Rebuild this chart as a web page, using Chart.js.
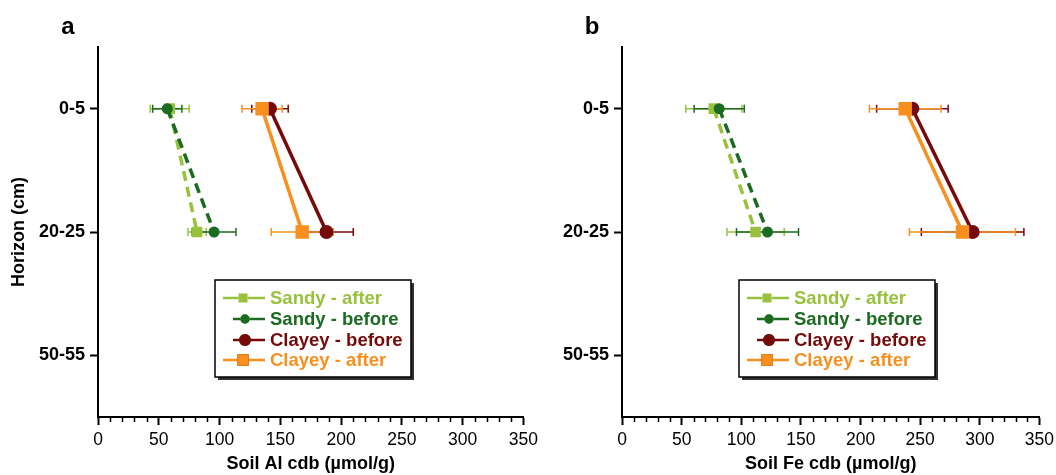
<!DOCTYPE html>
<html>
<head>
<meta charset="utf-8">
<script src="https://cdn.jsdelivr.net/npm/chart.js@4.4.1/dist/chart.umd.min.js"></script>
<style>
    html, body { margin: 0; padding: 0; background: #fff; overflow: hidden; }
    #wrap { position: relative; width: 1056px; height: 475px; overflow: hidden; }
    canvas { position: absolute; top: 0; }
</style>
</head>
<body>
<div id="wrap">
    <canvas id="chart-al" width="543" height="475" style="left:0"></canvas>
    <canvas id="chart-fe" width="516" height="475" style="left:543px"></canvas>
</div>
<script>
const horizons = ['0-5', '20-25', '50-55'];
const seriesLabels = ['Sandy - after', 'Sandy - before', 'Clayey - before', 'Clayey - after'];
const xTicks = [0, 50, 100, 150, 200, 250, 300, 350];

// Soil Al cdb (umol/g), one value per sampled horizon
const alSandyAfter = [59, 81.5];
const alSandyAfterErr = [16, 7.5];
const alSandyBefore = [57, 95.5];
const alSandyBeforeErr = [12, 18];
const alClayeyBefore = [141.5, 188];
const alClayeyBeforeErr = [15, 22];
const alClayeyAfter = [135, 168];
const alClayeyAfterErr = [16.5, 25.5];

// Soil Fe cdb (umol/g)
const feSandyAfter = [77, 112];
const feSandyAfterErr = [23.5, 24];
const feSandyBefore = [81.5, 122];
const feSandyBeforeErr = [21, 26];
const feClayeyBefore = [243.5, 294];
const feClayeyBeforeErr = [30, 43];
const feClayeyAfter = [237.5, 285.5];
const feClayeyAfterErr = [30, 44.5];

const colors = {
    sandyAfter: '#98c23c',
    sandyBefore: '#1c6b22',
    clayeyBefore: '#760a0a',
    clayeyAfter: '#f7901e'
};

const FONT = "'Liberation Sans', Arial, sans-serif";

function points(values) {
    return values.map((v, i) => ({ x: v, y: horizons[i] }));
}

function series(label, values, errors, color, style, radius, dashed, order) {
    return {
        label: label,
        data: points(values),
        errors: errors,
        showLine: true,
        borderColor: color,
        backgroundColor: color,
        borderWidth: 3.5,
        borderDash: dashed ? [10, 6] : [],
        pointStyle: style,
        pointRadius: radius,
        pointHoverRadius: radius,
        pointBorderWidth: 0,
        pointBackgroundColor: color,
        order: order
    };
}

// horizontal error bars with end caps, drawn under the lines and markers
const errorBars = {
    id: 'errorBars',
    beforeDatasetsDraw(chart) {
        const { ctx } = chart;
        const x = chart.scales.x;
        chart.data.datasets.forEach((ds, i) => {
            const meta = chart.getDatasetMeta(i);
            ctx.save();
            ctx.strokeStyle = ds.borderColor;
            ctx.lineWidth = 1.5;
            ds.data.forEach((p, j) => {
                const py = meta.data[j].y;
                const x0 = x.getPixelForValue(p.x - ds.errors[j]);
                const x1 = x.getPixelForValue(p.x + ds.errors[j]);
                ctx.beginPath();
                ctx.moveTo(x0, py); ctx.lineTo(x1, py);
                ctx.moveTo(x0, py - 4); ctx.lineTo(x0, py + 4);
                ctx.moveTo(x1, py - 4); ctx.lineTo(x1, py + 4);
                ctx.stroke();
            });
            ctx.restore();
        });
    }
};

// minor ticks every 10 units on the x axis
const minorTicks = {
    id: 'minorTicks',
    afterDraw(chart) {
        const { ctx, chartArea } = chart;
        const x = chart.scales.x;
        ctx.save();
        ctx.strokeStyle = '#000';
        ctx.lineWidth = 1.5;
        ctx.beginPath();
        for (let v = x.min; v <= x.max; v += 10) {
            if (v % 50 === 0) continue;
            const px = Math.round(x.getPixelForValue(v)) + 0.5;
            ctx.moveTo(px, chartArea.bottom);
            ctx.lineTo(px, chartArea.bottom + 5);
        }
        ctx.stroke();
        ctx.restore();
    }
};

// panel letter and boxed legend with line + marker samples
const panelDecor = {
    id: 'panelDecor',
    afterDraw(chart, args, opts) {
        const { ctx, chartArea } = chart;
        ctx.save();
        ctx.fillStyle = '#000';
        ctx.font = 'bold 24px ' + FONT;
        ctx.textAlign = 'center';
        ctx.textBaseline = 'middle';
        ctx.fillText(opts.letter, chartArea.left - 30, 27);

        const left = chartArea.left + 117, top = 280, w = 196, h = 97;
        ctx.fillStyle = '#333';
        ctx.fillRect(left + 3, top + 3, w, h);
        ctx.fillStyle = '#fff';
        ctx.fillRect(left, top, w, h);
        ctx.strokeStyle = '#000';
        ctx.lineWidth = 1.5;
        ctx.strokeRect(left, top, w, h);

        const rows = [18, 39, 60, 80];
        chart.data.datasets.forEach((ds, i) => {
            const cy = top + rows[i];
            const big = ds.pointRadius > 7;
            const l0 = left + (big ? 8 : 18), l1 = left + 50;
            const mx = left + (big ? 28 : 30);
            ctx.strokeStyle = ds.borderColor;
            ctx.lineWidth = 2.5;
            ctx.beginPath();
            ctx.moveTo(l0, cy); ctx.lineTo(l1, cy);
            ctx.stroke();
            Chart.helpers.drawPoint(ctx, {
                pointStyle: ds.pointStyle,
                radius: ds.pointRadius * 0.85,
                borderWidth: 0,
                rotation: 0
            }, mx, cy);
            ctx.fillStyle = ds.borderColor;
            ctx.fill();
            ctx.font = 'bold 18.5px ' + FONT;
            ctx.textAlign = 'left';
            ctx.fillText(ds.label, left + 55, cy + 1);
        });
        ctx.restore();
    }
};

function makePanel(id, letter, xTitle, showYTitle, yWidth, sets) {
    return new Chart(document.getElementById(id), {
        type: 'scatter',
        data: {
            datasets: [
                series(seriesLabels[0], sets[0], sets[1], colors.sandyAfter, 'rect', 7.5, true, 3),
                series(seriesLabels[1], sets[2], sets[3], colors.sandyBefore, 'circle', 5.5, true, 2),
                series(seriesLabels[2], sets[4], sets[5], colors.clayeyBefore, 'circle', 7, false, 1),
                series(seriesLabels[3], sets[6], sets[7], colors.clayeyAfter, 'rect', 9.5, false, 0)
            ]
        },
        options: {
            responsive: false,
            animation: false,
            devicePixelRatio: 1,
            layout: { padding: { top: 47, right: 14, bottom: 0, left: 0 } },
            plugins: {
                legend: { display: false },
                tooltip: { enabled: false },
                panelDecor: { letter: letter }
            },
            scales: {
                x: {
                    type: 'linear',
                    min: 0,
                    max: 350,
                    afterFit(scale) { scale.height = 58; },
                    afterBuildTicks(scale) { scale.ticks = xTicks.map(v => ({ value: v })); },
                    border: { color: '#000', width: 2 },
                    grid: { drawOnChartArea: false, tickLength: 8, tickWidth: 2, tickColor: '#000' },
                    ticks: { color: '#000', padding: 5, font: { size: 17.5 } },
                    title: {
                        display: true,
                        text: xTitle,
                        color: '#000',
                        font: { size: 18, weight: 'bold' },
                        padding: { top: 0, bottom: 0 }
                    }
                },
                y: {
                    type: 'category',
                    labels: horizons,
                    offset: true,
                    afterFit(scale) { scale.width = yWidth; },
                    border: { color: '#000', width: 2 },
                    grid: { drawOnChartArea: false, offset: false, tickLength: 8, tickWidth: 2, tickColor: '#000' },
                    ticks: { color: '#000', padding: 5, font: { size: 18, weight: 'bold' } },
                    title: {
                        display: showYTitle,
                        text: 'Horizon (cm)',
                        color: '#000',
                        font: { size: 18, weight: 'bold' },
                        padding: { top: 8, bottom: 0 }
                    }
                }
            }
        },
        plugins: [errorBars, minorTicks, panelDecor]
    });
}

Chart.defaults.font.family = FONT;

makePanel('chart-al', 'a', 'Soil Al cdb (\u00b5mol/g)', true, 98, [
    alSandyAfter, alSandyAfterErr, alSandyBefore, alSandyBeforeErr,
    alClayeyBefore, alClayeyBeforeErr, alClayeyAfter, alClayeyAfterErr
]);
makePanel('chart-fe', 'b', 'Soil Fe cdb (\u00b5mol/g)', false, 79, [
    feSandyAfter, feSandyAfterErr, feSandyBefore, feSandyBeforeErr,
    feClayeyBefore, feClayeyBeforeErr, feClayeyAfter, feClayeyAfterErr
]);
</script>
</body>
</html>
